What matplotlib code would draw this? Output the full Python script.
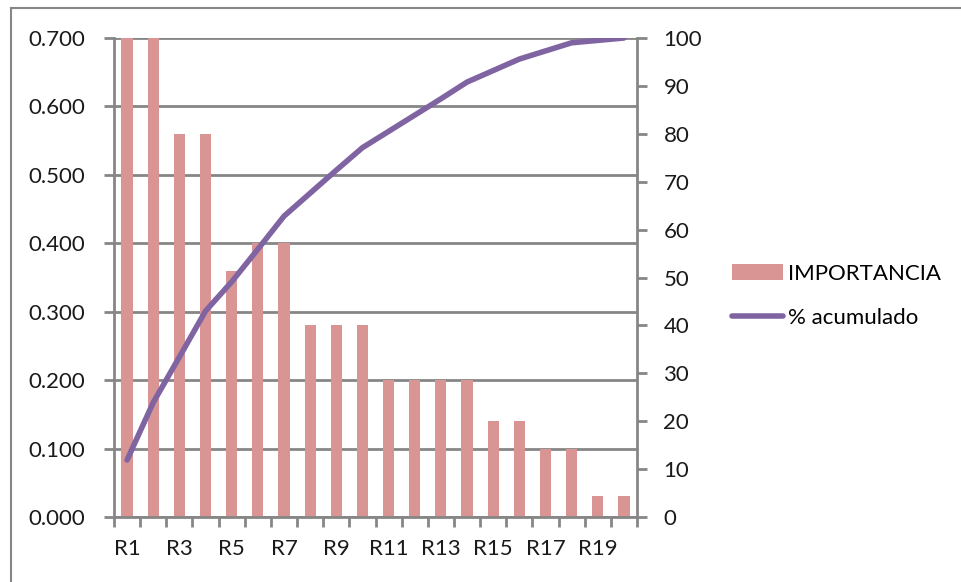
import matplotlib.pyplot as plt
import numpy as np
from matplotlib.lines import Line2D
from matplotlib.patches import Patch

plt.rcParams['font.family'] = ['Lato', 'DejaVu Sans']

# data
categorias = ['R%d' % i for i in range(1, 21)]
importancia = [0.70, 0.70, 0.56, 0.56, 0.36, 0.40, 0.40, 0.28, 0.28, 0.28,
               0.20, 0.20, 0.20, 0.20, 0.14, 0.14, 0.10, 0.10, 0.03, 0.03]
acumulado = [11.9, 23.9, 33.4, 43.0, 49.1, 55.9, 62.8, 67.6, 72.4, 77.1,
             80.5, 83.9, 87.3, 90.8, 93.2, 95.6, 97.3, 99.0, 99.5, 100.0]

bar_color = '#D99594'
line_color = '#8064A2'
grid_color = '#868686'

fig = plt.figure(figsize=(9.61, 5.82), dpi=100)
ax = fig.add_axes([114 / 961, 1 - 517 / 582, (637 - 114) / 961, (517 - 38) / 582])

x = np.arange(len(categorias))
ax.bar(x, importancia, width=0.43, color=bar_color, zorder=2)
ax.set_xlim(-0.5, len(categorias) - 0.5)
ax.set_ylim(0, 0.7)
ax.set_yticks(np.arange(0, 0.71, 0.1))
ax.set_yticklabels(['%.3f' % v for v in np.arange(0, 0.71, 0.1)])
ax.yaxis.grid(True, color=grid_color, linewidth=2, zorder=0)
ax.set_axisbelow(True)

# category ticks between bars, labels on every other category
ax.set_xticks(np.arange(-0.5, len(categorias), 1.0))
ax.set_xticklabels([])
ax.set_xticks(x[::2], minor=True)
ax.set_xticklabels(categorias[::2], minor=True)
ax.tick_params(axis='x', which='minor', length=0, pad=16, labelsize=16, labelcolor='#1a1a1a')
ax.tick_params(axis='x', which='major', length=7, width=2, color=grid_color)
ax.tick_params(axis='y', length=7, width=2, color=grid_color, labelsize=16,
               labelcolor='#1a1a1a', pad=14)

for s in ['top', 'right']:
    ax.spines[s].set_visible(False)
for s in ['left', 'bottom']:
    ax.spines[s].set_color(grid_color)
    ax.spines[s].set_linewidth(2)

ax2 = ax.twinx()
ax2.plot(x, acumulado, color=line_color, linewidth=4, solid_capstyle='round',
         solid_joinstyle='round', zorder=3)
ax2.set_ylim(0, 100)
ax2.set_yticks(np.arange(0, 101, 10))
ax2.tick_params(axis='y', length=7, width=2, color=grid_color, labelsize=16,
                labelcolor='#1a1a1a', pad=12)
for s in ['top', 'left', 'bottom']:
    ax2.spines[s].set_visible(False)
ax2.spines['right'].set_color(grid_color)
ax2.spines['right'].set_linewidth(2)

handles = [Patch(facecolor=bar_color, edgecolor='none'),
           Line2D([0], [0], color=line_color, linewidth=4, solid_capstyle='round')]
fig.legend(handles, ['IMPORTANCIA', '% acumulado'], loc='center left',
           bbox_to_anchor=(712 / 961, 1 - 296 / 582), frameon=False, fontsize=16,
           handlelength=2.3, handletextpad=0.2, labelspacing=1.1)

# chart border (top and left edges visible)
fig.add_artist(Line2D([11 / 961, 11 / 961], [0, 1 - 8 / 582], color=grid_color, linewidth=1.5))
fig.add_artist(Line2D([11 / 961, 1], [1 - 8 / 582, 1 - 8 / 582], color=grid_color, linewidth=1.5))

fig.savefig('out.png', dpi=100)
